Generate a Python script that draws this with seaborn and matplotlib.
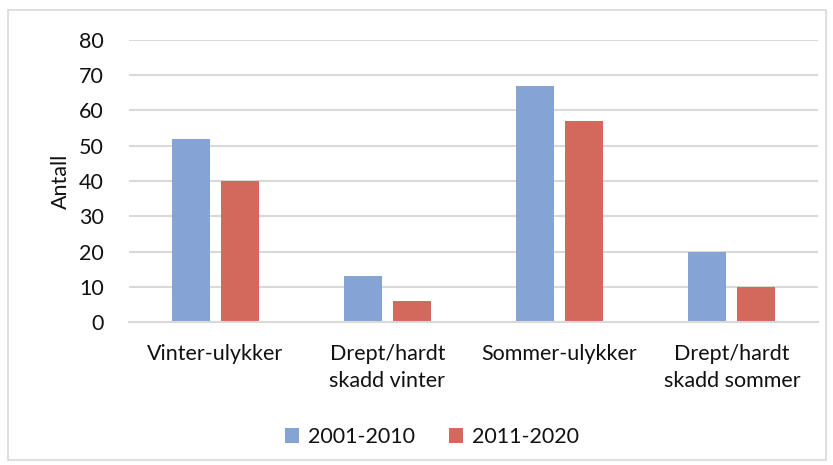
import matplotlib
matplotlib.use("Agg")
import matplotlib.pyplot as plt
from matplotlib.patches import Rectangle
import seaborn as sns
import pandas as pd

categories = ["Vinter-ulykker", "Drept/hardt\nskadd vinter", "Sommer-ulykker", "Drept/hardt\nskadd sommer"]
series_names = ["2001-2010", "2011-2020"]
values_2001_2010 = [52, 13, 67, 20]
values_2011_2020 = [40, 6, 57, 10]
colors = ["#86a3d6", "#d3685c"]

df = pd.DataFrame({
    "cat": categories * 2,
    "period": [series_names[0]] * 4 + [series_names[1]] * 4,
    "val": values_2001_2010 + values_2011_2020,
})

sns.set_style("white")
plt.rcParams["font.family"] = ["Lato", "DejaVu Sans"]

FS = 15.5
TXT = "#111111"

fig = plt.figure(figsize=(8.33, 4.65), dpi=100)
ax = fig.add_axes([129/833, 1 - 322/465, (818-129)/833, (322-40)/465])

sns.barplot(data=df, x="cat", y="val", hue="period", palette=colors,
            width=0.57, gap=0.224, ax=ax, saturation=1, legend=True, linewidth=0)

ax.set_ylim(0, 80)
ax.set_xlim(-0.5, 3.5)
ax.set_yticks(range(0, 81, 10))
ax.yaxis.grid(True, color="#d9d9d9", linewidth=1.5)
ax.set_axisbelow(True)
for s in ["top", "right", "left"]:
    ax.spines[s].set_visible(False)
ax.spines["bottom"].set_color("#d9d9d9")
ax.spines["bottom"].set_linewidth(1.5)
ax.tick_params(axis="both", length=0, labelsize=FS, colors=TXT)
ax.tick_params(axis="y", pad=18)
ax.tick_params(axis="x", pad=16)
for t in ax.get_xticklabels():
    t.set_linespacing(1.45)
ax.set_xlabel("")
ax.set_ylabel("Antall", fontsize=FS, color=TXT, labelpad=6)

handles, labels = ax.get_legend_handles_labels()
ax.legend_.remove()
fig.legend(handles, labels, loc="center", bbox_to_anchor=(432/833, 1 - 437/465), ncol=2,
           frameon=False, fontsize=FS, handlelength=0.65, handleheight=0.65,
           columnspacing=1.6, handletextpad=0.4, labelcolor=TXT)

fig.patches.append(Rectangle((8/833, 1 - 460/465), (826-8)/833, (460-10)/465,
                             transform=fig.transFigure, fill=False,
                             edgecolor="#d9d9d9", linewidth=1.2))

fig.savefig("out.png", dpi=100)
